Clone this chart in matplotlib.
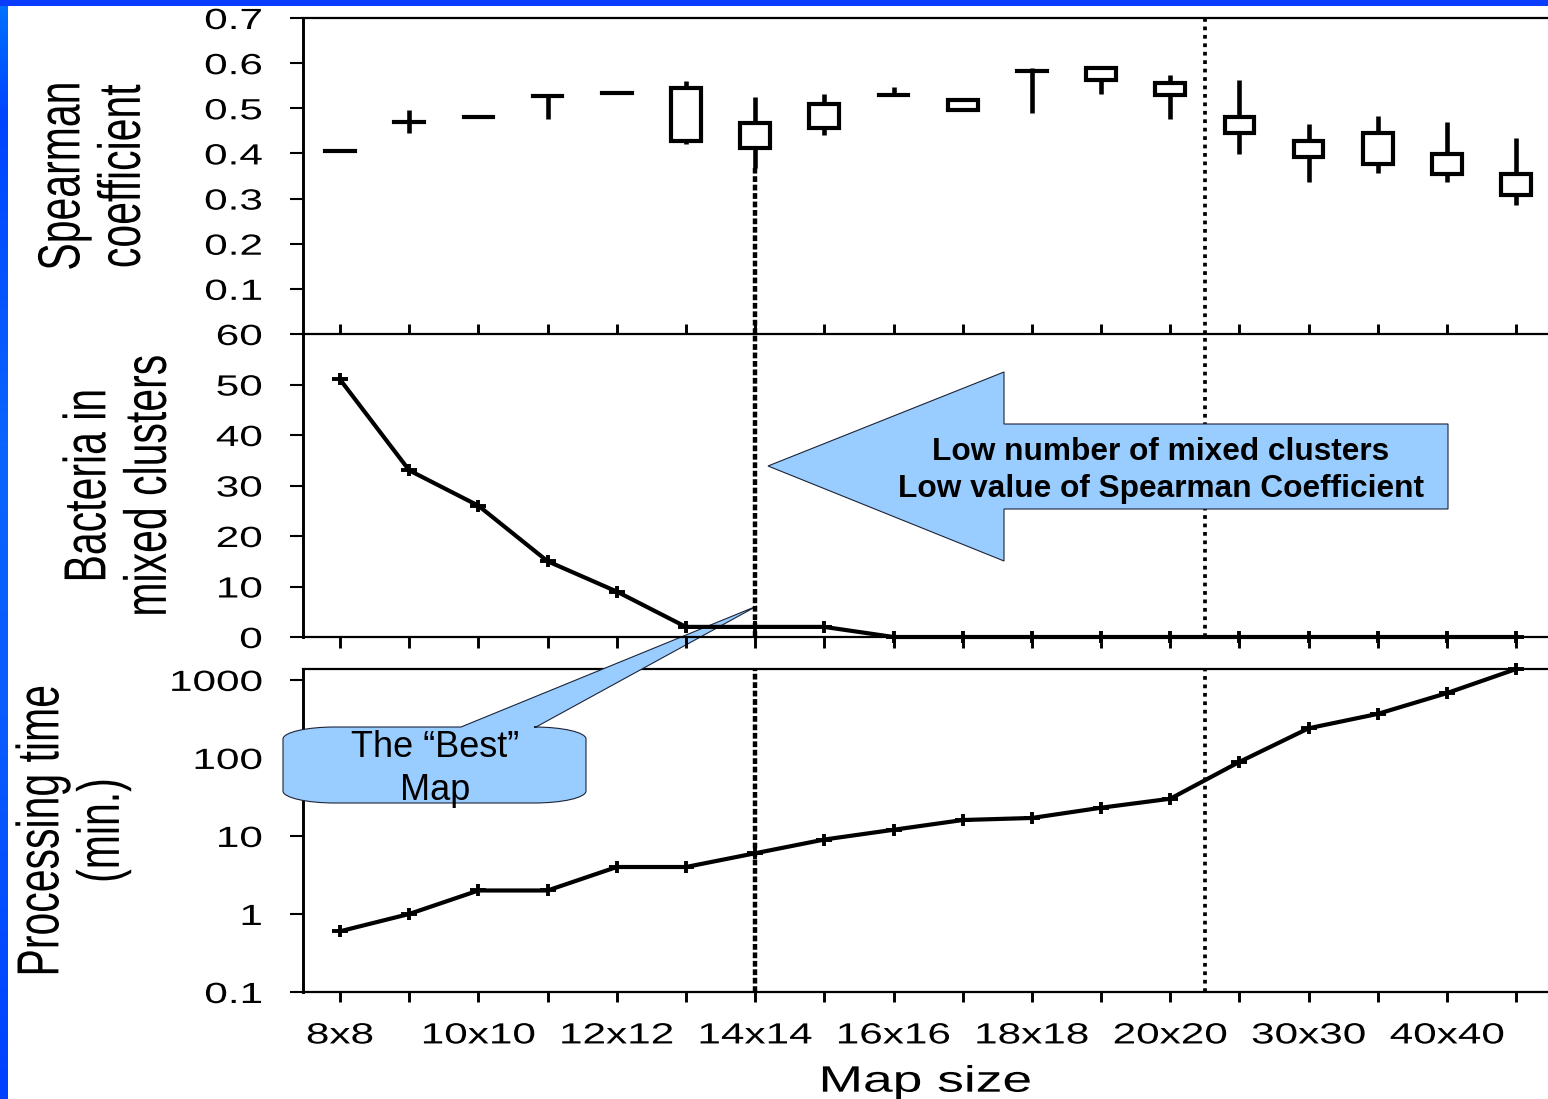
import numpy as np
import matplotlib
matplotlib.use("Agg")
import matplotlib.pyplot as plt
import matplotlib.patheffects as pe
from matplotlib.transforms import Affine2D
from matplotlib.path import Path
from matplotlib.patches import PathPatch, Polygon, Rectangle
from matplotlib.colors import LinearSegmentedColormap
from matplotlib.ticker import NullLocator

# ---------------- data ----------------
map_sizes = ["8x8", "9x9", "10x10", "11x11", "12x12", "13x13", "14x14", "15x15",
             "16x16", "17x17", "18x18", "19x19", "20x20", "25x25", "30x30",
             "35x35", "40x40", "45x45"]
x_tick_labels = [s if i % 2 == 0 else "" for i, s in enumerate(map_sizes)]

sp_low = [0.406, 0.445, 0.481, 0.476, 0.533, 0.420, 0.367, 0.441, 0.529,
          0.496, 0.489, 0.532, 0.476, 0.398, 0.336, 0.357, 0.337, 0.286]
sp_q1 = [0.406, 0.470, 0.481, 0.528, 0.533, 0.428, 0.411, 0.457, 0.529,
         0.496, 0.583, 0.563, 0.529, 0.446, 0.393, 0.377, 0.354, 0.308]
sp_q3 = [0.406, 0.470, 0.481, 0.528, 0.533, 0.544, 0.467, 0.509, 0.529,
         0.518, 0.583, 0.590, 0.555, 0.481, 0.427, 0.445, 0.399, 0.354]
sp_high = [0.406, 0.496, 0.481, 0.528, 0.533, 0.560, 0.524, 0.532, 0.548,
           0.518, 0.590, 0.590, 0.573, 0.563, 0.465, 0.484, 0.469, 0.434]

bacteria = [51, 33, 26, 15, 9, 2, 2, 2, 0, 0, 0, 0, 0, 0, 0, 0, 0, 0]

proc_time = [0.6, 1.0, 2.0, 2.0, 4.0, 4.0, 6.0, 9.0, 12, 16, 17, 23, 30,
             89, 240, 367, 678, 1380]

sp_ticks = [0.1, 0.2, 0.3, 0.4, 0.5, 0.6, 0.7]
sp_tick_labels = ["0.1", "0.2", "0.3", "0.4", "0.5", "0.6", "0.7"]
bac_ticks = [0, 10, 20, 30, 40, 50, 60]
bac_tick_labels = ["0", "10", "20", "30", "40", "50", "60"]
time_ticks = [0.1, 1, 10, 100, 1000]
time_tick_labels = ["0.1", "1", "10", "100", "1000"]

best_idx = 6        # 14x14, "best" map
split_pos = 12.5    # between 20x20 and 25x25

arrow_lines = ["Low number of mixed clusters",
               "Low value of Spearman Coefficient"]
callout_lines = ["The \u201cBest\u201d", "Map"]

# ---------------- style ----------------
plt.rcParams["font.family"] = ["Liberation Sans", "DejaVu Sans"]
BLUE_FILL = "#99ccff"
EDGE = "#1c2438"


class Stretch(pe.AbstractPathEffect):
    """Scale glyph outlines (text stays a Text artist)."""

    def __init__(self, sx=1.0, sy=1.0, anchor="center"):
        super().__init__()
        self._sx, self._sy, self._anchor = sx, sy, anchor

    def draw_path(self, renderer, gc, tpath, affine, rgbFace=None):
        ext = tpath.get_extents()
        if self._anchor == "right":
            cx = ext.x1
        elif self._anchor == "left":
            cx = ext.x0
        else:
            cx = 0.5 * (ext.x0 + ext.x1)
        cy = 36.0
        pre = (Affine2D().translate(-cx, -cy)
               .scale(self._sx, self._sy).translate(cx, cy))
        renderer.draw_path(gc, tpath, pre + affine, rgbFace)


SX = 1.45

W, H = 1548, 1099
fig = plt.figure(figsize=(W / 100, H / 100), dpi=100)
fig.patch.set_facecolor("white")

AX_L, AX_R = 303, 1548


def rect(top, bottom):
    return [AX_L / W, 1 - bottom / H, (AX_R - AX_L) / W, (bottom - top) / H]


ax1 = fig.add_axes(rect(18, 334), zorder=0)
ax2 = fig.add_axes(rect(334, 637), zorder=2)
ax3 = fig.add_axes(rect(669, 992), zorder=0)
ax2.set_facecolor("none")

x = np.arange(len(map_sizes))
xlim = (-0.535, 17.46)

for ax in (ax1, ax2, ax3):
    ax.set_xlim(*xlim)
    ax.spines["right"].set_visible(False)
    for s in ("top", "bottom"):
        ax.spines[s].set_linewidth(1.6)
    ax.spines["left"].set_linewidth(2.1)
    ax.set_xticks(x)
    ax.tick_params(axis="y", direction="out", length=9.4, width=1.5,
                   pad=20, labelsize=21, left=True)
ax2.spines["top"].set_visible(False)

ax1.tick_params(axis="x", direction="in", length=7.2, width=2.1,
                labelbottom=False)
ax2.tick_params(axis="x", direction="out", length=7.6, width=2.1,
                labelbottom=False)
ax3.tick_params(axis="x", direction="out", length=7.2, width=2.1,
                labelbottom=True, pad=14, labelsize=21)
ax3.set_xticklabels(x_tick_labels)

# ---------------- top: Spearman candles ----------------
low = np.array(sp_low)
q1 = np.array(sp_q1)
q3 = np.array(sp_q3)
high = np.array(sp_high)
bw = 0.43
flat = np.isclose(q1, q3)
ax1.bar(x[~flat], (q3 - q1)[~flat], bottom=q1[~flat], width=bw, fill=False,
        edgecolor="black", linewidth=3.0, joinstyle="miter", zorder=3)
ax1.hlines(q1[flat], x[flat] - bw / 2, x[flat] + bw / 2, color="black",
           linewidth=3.0, capstyle="projecting", zorder=3)
ax1.vlines(x, low, q1, color="black", linewidth=3.3, capstyle="butt", zorder=3)
ax1.vlines(x, q3, high, color="black", linewidth=3.3, capstyle="butt", zorder=3)
ax1.set_ylim(0, 0.7)
ax1.set_yticks(sp_ticks)
ax1.set_yticklabels(sp_tick_labels)

# dotted guide lines
ax1.plot([best_idx, best_idx], [0, sp_low[best_idx]], color="black", lw=3.2,
         dashes=(1.3, 0.6), zorder=2)
for ax in (ax2, ax3):
    ax.axvline(best_idx, color="black", lw=3.2, dashes=(1.3, 0.6), zorder=2)
for ax in (ax1, ax2, ax3):
    ax.axvline(split_pos, color="black", lw=2.7, dashes=(1.0, 1.25), zorder=2)

# ---------------- plus marker (wide) ----------------
plus = Path([(-1.4, 0), (1.4, 0), (0, -1), (0, 1)],
            [Path.MOVETO, Path.LINETO, Path.MOVETO, Path.LINETO])

# ---------------- middle: bacteria ----------------
ax2.plot(x, bacteria, color="black", lw=3.0, marker=plus, ms=11.5, mew=2.8,
         clip_on=False, zorder=3)
ax2.set_ylim(0, 60)
ax2.set_yticks(bac_ticks)
ax2.set_yticklabels(bac_tick_labels)

# ---------------- bottom: processing time ----------------
ax3.plot(x, proc_time, color="black", lw=3.0, marker=plus, ms=11.5, mew=2.8,
         clip_on=False, zorder=3)
ax3.set_yscale("log")
ax3.set_ylim(0.1, 1380)
ax3.yaxis.set_minor_locator(NullLocator())
ax3.set_yticks(time_ticks)
ax3.set_yticklabels(time_tick_labels)

# ---------------- labels ----------------
ax1.set_ylabel("Spearman\ncoefficient", fontsize=29.5, linespacing=1.75)
ax2.set_ylabel("Bacteria in\nmixed clusters", fontsize=29.5, linespacing=1.75)
ax3.set_ylabel("Processing time\n(min.)", fontsize=29.5, linespacing=1.75)
for ax, xc in ((ax1, 92), (ax2, 118), (ax3, 71)):
    ax.yaxis.set_label_coords((xc - AX_L) / (AX_R - AX_L), 0.5)
    ax.yaxis.label.set_verticalalignment("center")
    ax.yaxis.label.set_path_effects([Stretch(1.0, SX, "center")])

ax3.set_xlabel("Map size", fontsize=26.5)
ax3.xaxis.set_label_coords(0.5, -0.225)
ax3.xaxis.label.set_verticalalignment("top")
ax3.xaxis.label.set_path_effects([Stretch(SX, 1.0, "center")])

for ax in (ax1, ax2, ax3):
    for t in ax.get_yticklabels():
        t.set_path_effects([Stretch(SX, 1.0, "right")])
for t in ax3.get_xticklabels():
    t.set_path_effects([Stretch(SX, 1.0, "center")])


# ---------------- annotations (figure pixel coords) ----------------
def P(px, py):
    return (px / W, 1 - py / H)


arrow_pts = [P(768, 466), P(1004, 372), P(1004, 424), P(1448, 424),
             P(1448, 509), P(1004, 509), P(1004, 561)]
fig.add_artist(Polygon(arrow_pts, closed=True, transform=fig.transFigure,
                       facecolor=BLUE_FILL, edgecolor=EDGE, lw=0.8, zorder=3))
fig.text(*P(1161, 460), arrow_lines[0], ha="center", va="baseline",
         fontsize=22.8, fontweight="bold", zorder=4)
fig.text(*P(1161, 497), arrow_lines[1], ha="center", va="baseline",
         fontsize=22.8, fontweight="bold", zorder=4)

bx0, bx1, by0, by1 = 283, 586, 727, 803
rx, ry, k = 52, 12, 0.5523
pix = [
    (bx0 + rx, by0), (461, by0), (757, 606), (536, by0), (bx1 - rx, by0),
    (bx1 - rx + k * rx, by0), (bx1, by0 + ry - k * ry), (bx1, by0 + ry),
    (bx1, by1 - ry),
    (bx1, by1 - ry + k * ry), (bx1 - rx + k * rx, by1), (bx1 - rx, by1),
    (bx0 + rx, by1),
    (bx0 + rx - k * rx, by1), (bx0, by1 - ry + k * ry), (bx0, by1 - ry),
    (bx0, by0 + ry),
    (bx0, by0 + ry - k * ry), (bx0 + rx - k * rx, by0), (bx0 + rx, by0),
    (bx0 + rx, by0),
]
codes = ([Path.MOVETO] + [Path.LINETO] * 4 + [Path.CURVE4] * 3 + [Path.LINETO]
         + [Path.CURVE4] * 3 + [Path.LINETO] + [Path.CURVE4] * 3 + [Path.LINETO]
         + [Path.CURVE4] * 3 + [Path.CLOSEPOLY])
callout = Path([P(*p) for p in pix], codes)
fig.add_artist(PathPatch(callout, transform=fig.transFigure,
                         facecolor=BLUE_FILL, edgecolor=EDGE, lw=0.8, zorder=1))
fig.text(*P(435, 757), callout_lines[0], ha="center", va="baseline",
         fontsize=26, zorder=1.5)
fig.text(*P(435, 800), callout_lines[1], ha="center", va="baseline",
         fontsize=26, zorder=1.5)

# ---------------- blue frame ----------------
fig.add_artist(Rectangle((0, 1 - 6 / H), 1, 6 / H, transform=fig.transFigure,
                         facecolor="#0a3cff", edgecolor="none", zorder=10))
strip = fig.add_axes([0, 0, 8 / W, 1 - 6 / H], zorder=10)
cmap = LinearSegmentedColormap.from_list(
    "frame", [(0.0, "#0040ff"), (0.35, "#0a5cff"), (0.6, "#0a64ff"),
              (0.9, "#0044ff"), (1.0, "#0070ff")])
strip.imshow(np.linspace(0, 1, 256)[:, None], cmap=cmap, aspect="auto",
             origin="lower", extent=(0, 1, 0, 1))
strip.axis("off")

fig.savefig("out.png", dpi=100, facecolor="white")
